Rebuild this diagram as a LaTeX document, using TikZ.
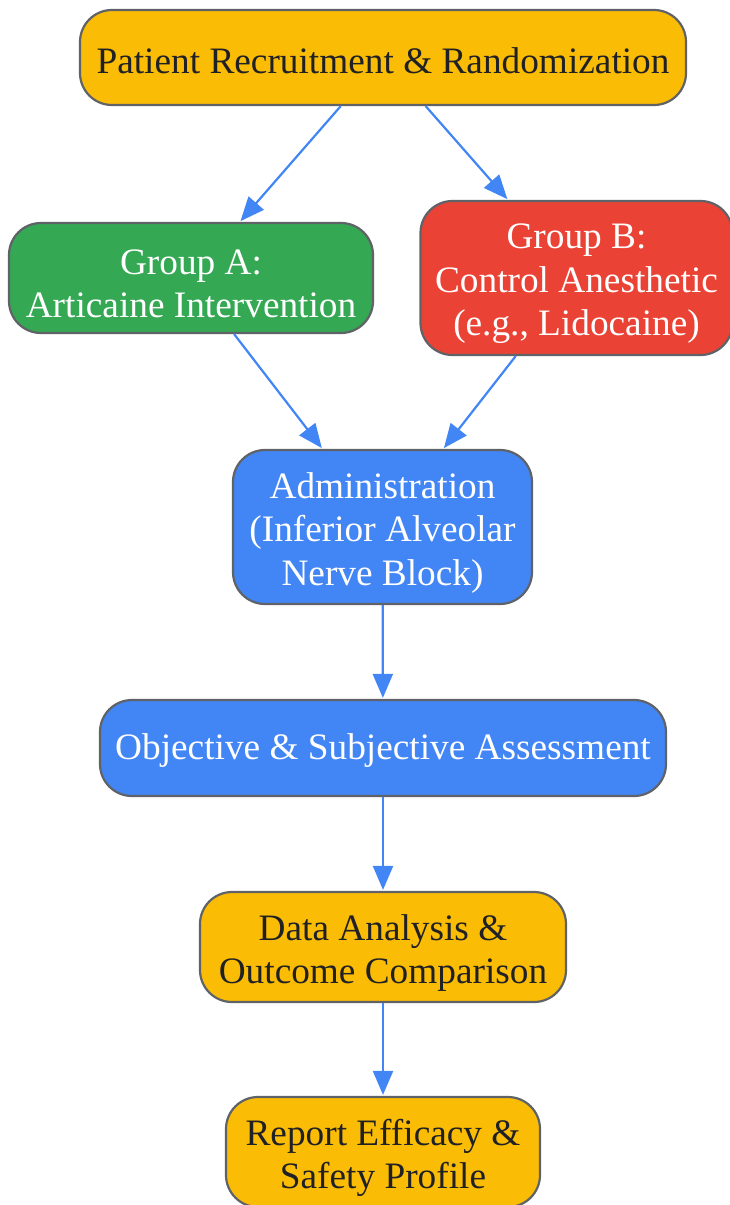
\documentclass[tikz,border=0pt]{standalone}
\usepackage{fontspec}
\setmainfont{Liberation Serif}
\usetikzlibrary{arrows.meta}
\definecolor{gyellow}{HTML}{FBBC05}
\definecolor{ggreen}{HTML}{34A853}
\definecolor{gred}{HTML}{EA4335}
\definecolor{gblue}{HTML}{4285F4}
\definecolor{gborder}{HTML}{5F6368}
\definecolor{gtext}{HTML}{202124}
\tikzset{
  box/.style={draw=gborder, line width=2.2pt, rounded corners=32pt, inner sep=0pt},
  lbl/.style={inner sep=0pt, align=center, font=\fontsize{37.3}{43.5}\selectfont, yshift=-3pt},
  ml/.style={yshift=-3pt},
  ybox/.style={box, fill=gyellow},
  gbox/.style={box, fill=ggreen},
  rbox/.style={box, fill=gred},
  bbox/.style={box, fill=gblue},
  dark/.style={lbl, text=gtext},
  light/.style={lbl, text=white},
  arr/.style={draw=gblue, line width=2.2pt, -{Triangle[length=24pt,width=20pt]}, shorten >=1pt}
}
\begin{document}
\begin{tikzpicture}[x=1pt,y=1pt]
\useasboundingbox (0,0) rectangle (729,-1205);
\node[ybox, minimum width=606pt, minimum height=95pt] (rec) at (383,-57.5) {};
\node[dark] (rect) at (rec.center) {Patient Recruitment \& Randomization};
\node[gbox, minimum width=364pt, minimum height=110pt] (ga) at (191,-278) {};
\node[light, ml] (gat) at (ga.center) {Group A:\\Articaine Intervention};
\node[rbox, minimum width=312pt, minimum height=154pt] (gb) at (576.5,-278) {};
\node[light, ml] (gbt) at (gb.center) {Group B:\\Control Anesthetic\\(e.g., Lidocaine)};
\node[bbox, minimum width=299pt, minimum height=154pt] (adm) at (382.5,-527) {};
\node[light, ml] (admt) at (adm.center) {Administration\\(Inferior Alveolar\\Nerve Block)};
\node[bbox, minimum width=566pt, minimum height=96pt] (obj) at (383,-748) {};
\node[light] (objt) at (obj.center) {Objective \& Subjective Assessment};
\node[ybox, minimum width=366pt, minimum height=110pt] (dat) at (383,-947) {};
\node[dark, ml] (datt) at (dat.center) {Data Analysis \&\\Outcome Comparison};
\node[ybox, minimum width=314pt, minimum height=110pt] (rep) at (383,-1152) {};
\node[dark, ml] (rept) at (rep.center) {Report Efficacy \&\\Safety Profile};
\draw[arr] (rec) -- (ga);
\draw[arr] (rec) -- (gb);
\draw[arr] (ga) -- (adm);
\draw[arr] (gb) -- (adm);
\draw[arr] (adm) -- (obj);
\draw[arr] (obj) -- (dat);
\draw[arr] (dat) -- (rep);
\end{tikzpicture}
\end{document}
